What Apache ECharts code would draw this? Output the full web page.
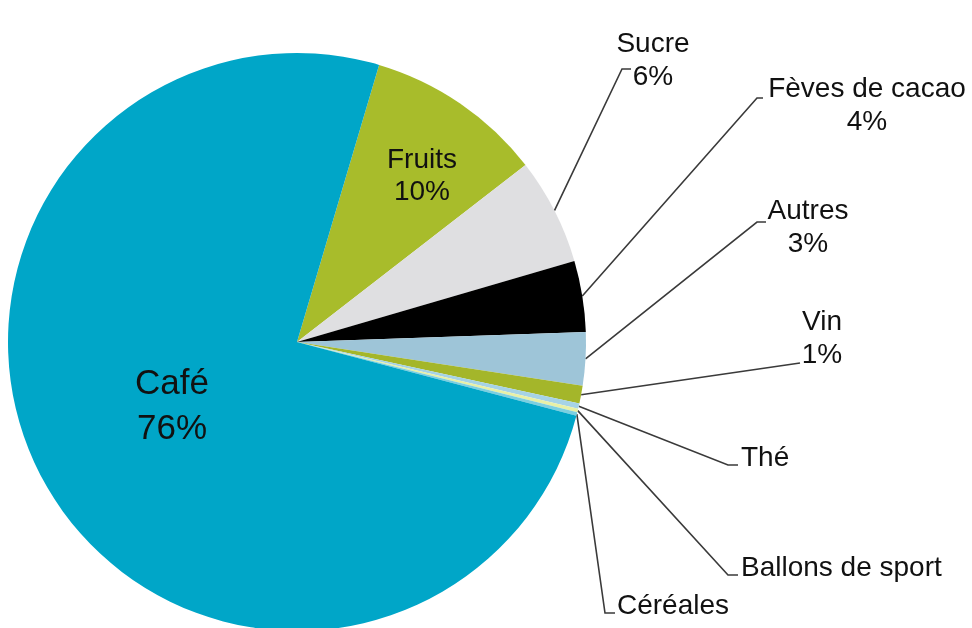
<!DOCTYPE html>
<html>
<head>
<meta charset="utf-8">
<script src="https://cdn.jsdelivr.net/npm/echarts@6/dist/echarts.min.js"></script>
<style>
  html, body { margin: 0; padding: 0; background: #fff; }
  #chart { width: 972px; height: 628px; }
</style>
</head>
<body>
<div id="chart"></div>
<script>
// Product shares (%), listed clockwise from the top
const categories = ['Fruits', 'Sucre', 'Fèves de cacao', 'Autres', 'Vin', 'Thé', 'Ballons de sport', 'Céréales', 'Café'];
const shares = [10, 6, 4, 3, 1, 0.3, 0.2, 0.2, 76];
// which slices print their percentage
const showPercent = [true, true, true, true, true, false, false, false, true];

const colors = ['#A8BC2B', '#DFDFE1', '#000000', '#9EC5D8', '#A4B62A', '#A6D3E6', '#E8F0A6', '#7CCFE0', '#00A6C8'];

// label placement: text anchor (x, y, align) and the leader elbow/end points
const labelPlacement = [
  { x: 422, y: 176, align: 'center', size: 28, lh: 32, inside: true },
  { x: 653, y: 61, align: 'center', line: [[622, 69], [631, 69]] },
  { x: 867, y: 106, align: 'center', line: [[757, 98], [763, 98]] },
  { x: 808, y: 228, align: 'center', line: [[757, 222], [766, 222]] },
  { x: 822, y: 339, align: 'center', line: [[800, 363], [800, 363]] },
  { x: 741, y: 458, align: 'left', line: [[728, 465], [738, 465]] },
  { x: 741, y: 568, align: 'left', line: [[728, 575], [738, 575]] },
  { x: 617, y: 606, align: 'left', line: [[605, 613], [615, 613]] },
  { x: 172, y: 407, align: 'center', size: 35, lh: 45, inside: true }
];

const seriesData = categories.map((name, i) => {
  const p = labelPlacement[i];
  return {
    name: name,
    value: shares[i],
    itemStyle: { color: colors[i] },
    label: {
      position: p.inside ? 'inside' : 'outside',
      fontSize: p.size || 28,
      lineHeight: p.lh || 33,
      align: p.align
    },
    labelLine: { show: !p.inside }
  };
});

const chart = echarts.init(document.getElementById('chart'), null, { renderer: 'canvas' });
chart.setOption({
  animation: false,
  backgroundColor: '#ffffff',
  series: [{
    type: 'pie',
    center: [297, 342],
    radius: 289,
    startAngle: 73.5,
    clockwise: true,
    avoidLabelOverlap: false,
    data: seriesData,
    itemStyle: { borderWidth: 0 },
    label: {
      show: true,
      color: '#111111',
      fontFamily: 'Liberation Sans, Arial, sans-serif',
      formatter: function (params) {
        const i = params.dataIndex;
        return showPercent[i] ? params.name + '\n' + params.value + '%' : params.name;
      }
    },
    labelLine: {
      show: true,
      lineStyle: { color: '#3a3a3a', width: 1.6 }
    },
    labelLayout: function (params) {
      const p = labelPlacement[params.dataIndex];
      const out = { x: p.x, y: p.y, align: p.align, verticalAlign: 'middle' };
      if (p.line && params.labelLinePoints) {
        out.labelLinePoints = [params.labelLinePoints[0], p.line[0], p.line[1]];
      }
      return out;
    }
  }]
});
</script>
</body>
</html>
